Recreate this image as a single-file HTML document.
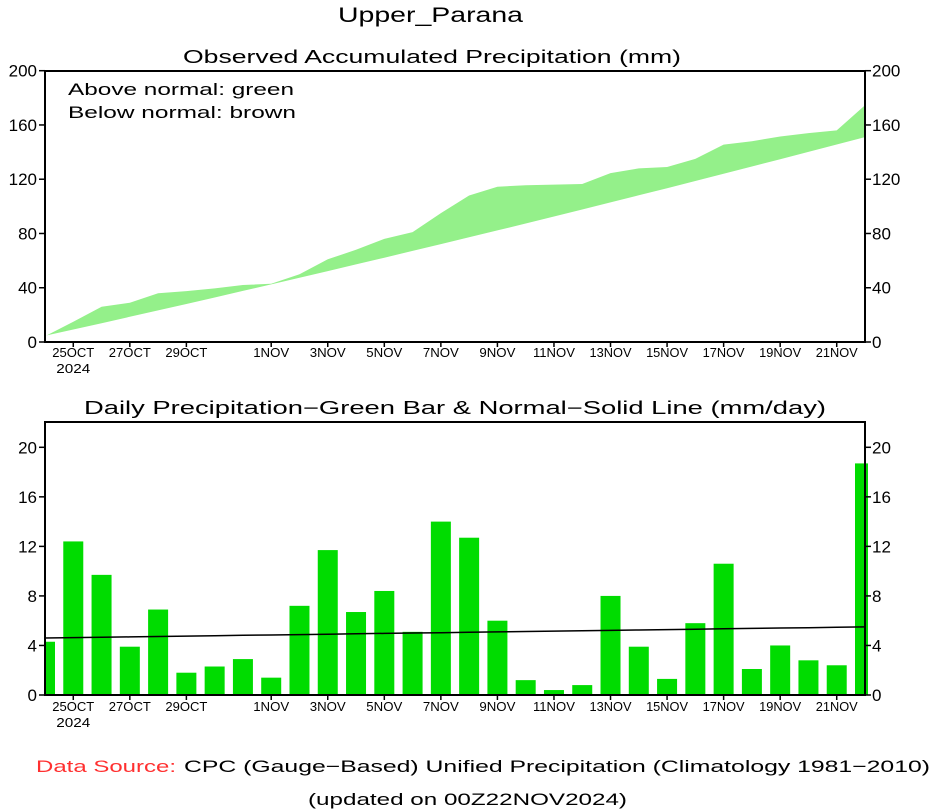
<!DOCTYPE html>
<html><head><meta charset="utf-8"><style>
html,body{margin:0;padding:0;background:#fff;}
svg{display:block;font-family:"Liberation Sans",sans-serif;}
</style></head><body>
<svg id="s" width="934" height="809" viewBox="0 0 934 809" xmlns="http://www.w3.org/2000/svg">
<text x="338" y="22" font-size="21" textLength="185" lengthAdjust="spacingAndGlyphs">Upper_Parana</text>
<text x="183" y="63" font-size="18" textLength="498" lengthAdjust="spacingAndGlyphs">Observed Accumulated Precipitation (mm)</text>
<text x="84" y="414" font-size="18" textLength="742" lengthAdjust="spacingAndGlyphs">Daily Precipitation−Green Bar &amp; Normal−Solid Line (mm/day)</text>
<text x="68" y="95" font-size="17" textLength="226" lengthAdjust="spacingAndGlyphs">Above normal: green</text>
<text x="68" y="118" font-size="17" textLength="228" lengthAdjust="spacingAndGlyphs">Below normal: brown</text>
<text x="36" y="772" font-size="17" fill="#ff3030" textLength="140" lengthAdjust="spacingAndGlyphs">Data Source:</text>
<text x="184" y="772" font-size="17" textLength="746" lengthAdjust="spacingAndGlyphs">CPC (Gauge−Based) Unified Precipitation (Climatology 1981−2010)</text>
<text x="308" y="805" font-size="17" textLength="319" lengthAdjust="spacingAndGlyphs">(updated on 00Z22NOV2024)</text>
<g id="g"></g>
</svg>
<script>
const NS="http://www.w3.org/2000/svg",g=document.getElementById('g');
function el(t,a,txt){const e=document.createElementNS(NS,t);for(const k in a)e.setAttribute(k,a[k]);if(txt!=null)e.textContent=txt;g.appendChild(e);return e;}
const X0=45,X1=865,DW=(X1-X0)/29;
const bars=[4.3,12.4,9.7,3.9,6.9,1.8,2.3,2.9,1.4,7.2,11.7,6.7,8.4,5.1,14.0,12.7,6.0,1.2,0.4,0.8,8.0,3.9,1.3,5.8,10.6,2.1,4.0,2.8,2.4,18.7];
const obs=[4.3,15,26,29,36,37.5,39.5,42,43,50,61,68,76,81,95,108,114.5,115.5,116,116.5,124.5,128,129,135,145.5,148,151.5,154,156,174.5];
// top chart
const T0=342,TK=271.3/200;
let norm=[],c=0;for(let i=0;i<30;i++){c+=4.6+0.03*i;norm.push(c);}
let pts=[];for(let i=0;i<30;i++)pts.push((X0+DW*i).toFixed(1)+","+(T0-obs[i]*TK).toFixed(1));
for(let i=29;i>=0;i--)pts.push((X0+DW*i).toFixed(1)+","+(T0-norm[i]*TK).toFixed(1));
el('polygon',{points:pts.join(' '),fill:'#94f08a'});
el('rect',{x:X0,y:71,width:X1-X0,height:T0-71,fill:'none',stroke:'#000','stroke-width':2});
for(let v=0;v<=200;v+=40){const y=T0-v*TK;
 el('line',{x1:X0-6,y1:y,x2:X0,y2:y,stroke:'#000','stroke-width':1.5});
 el('line',{x1:X1,y1:y,x2:X1+6,y2:y,stroke:'#000','stroke-width':1.5});
 el('text',{x:37,y:y+6,'font-size':17,'text-anchor':'end'},v);
 el('text',{x:872,y:y+6,'font-size':17},v);}
// bottom chart
const B0=695,BK=(695-447.3)/20;
for(let i=0;i<30;i++){let x=X0+DW*i-10,w=20;if(i==0){x=X0;w=10;}if(i==29){w=13;}
 el('rect',{x:x,y:B0-bars[i]*BK,width:w,height:bars[i]*BK,fill:'#00dc00'});}
let np=[];for(let i=0;i<30;i++){const n=4.6+0.031*i;np.push((X0+DW*i).toFixed(1)+","+(B0-n*BK).toFixed(1));}
el('polyline',{points:np.join(' '),fill:'none',stroke:'#000','stroke-width':1.5});
el('rect',{x:X0,y:422,width:X1-X0,height:B0-422,fill:'none',stroke:'#000','stroke-width':2});
for(let v=0;v<=20;v+=4){const y=B0-v*BK;
 el('line',{x1:X0-6,y1:y,x2:X0,y2:y,stroke:'#000','stroke-width':1.5});
 el('line',{x1:X1,y1:y,x2:X1+6,y2:y,stroke:'#000','stroke-width':1.5});
 el('text',{x:37,y:y+6,'font-size':17,'text-anchor':'end'},v);
 el('text',{x:872,y:y+6,'font-size':17},v);}
// x labels
const labs=[[1,'25OCT'],[3,'27OCT'],[5,'29OCT'],[8,'1NOV']];
for(let d=3;d<=21;d+=2)labs.push([d+7,d+'NOV']);
for(const [base,yl] of [[T0,357],[B0,711]]){
 for(const [i,t] of labs){const x=X0+DW*i;
  el('line',{x1:x,y1:base,x2:x,y2:base+5,stroke:'#000','stroke-width':1.5});
  const w=t.length==5?42:36;
  el('text',{x:x,y:yl,'font-size':13,'text-anchor':'middle',textLength:w,lengthAdjust:'spacingAndGlyphs'},t);}
 el('text',{x:X0+DW,y:yl+16,'font-size':13,'text-anchor':'middle',textLength:34,lengthAdjust:'spacingAndGlyphs'},'2024');
}
</script>
</body></html>
